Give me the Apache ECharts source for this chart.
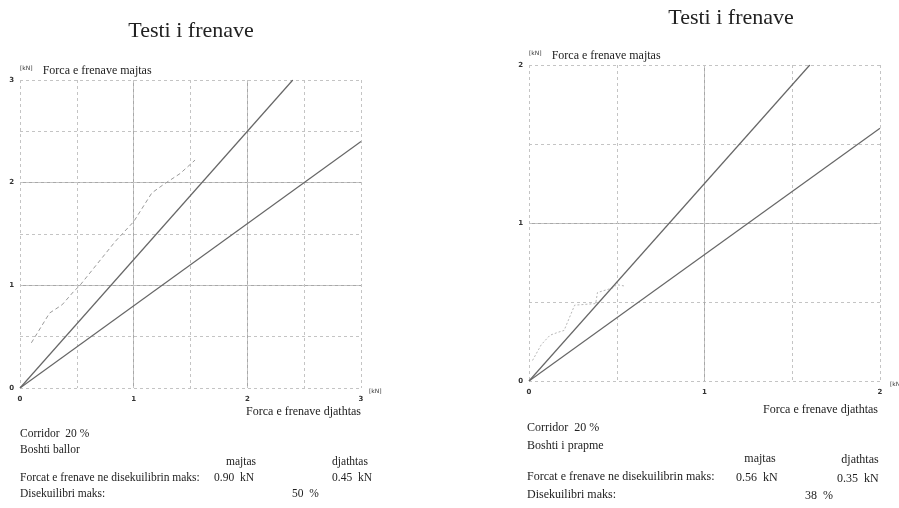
<!DOCTYPE html>
<html>
<head>
<meta charset="utf-8">
<script src="https://cdn.jsdelivr.net/npm/echarts@6/dist/echarts.min.js"></script>
<style>
  html, body { margin: 0; padding: 0; background: #fff; }
  #chart { width: 899px; height: 508px; }
</style>
</head>
<body>
<div id="chart"></div>
<script>
// Front axle (left page)
const leftMax = 3
const leftUpperLine = [[0, 0], [2.4, 3]]
const leftLowerLine = [[0, 0], [3, 2.4]]
const leftMeasured = [
  [0.10, 0.44], [0.26, 0.73], [0.37, 0.81], [0.48, 0.95], [0.52, 0.99],
  [0.84, 1.43], [1.00, 1.62], [1.16, 1.90], [1.26, 1.98], [1.41, 2.09], [1.54, 2.22]
]

// Rear axle (right page)
const rightMax = 2
const rightUpperLine = [[0, 0], [1.6, 2]]
const rightLowerLine = [[0, 0], [2, 1.6]]
const rightMeasured = [
  [0.02, 0.13], [0.07, 0.23], [0.12, 0.29], [0.17, 0.31], [0.20, 0.32],
  [0.23, 0.40], [0.26, 0.48], [0.38, 0.49], [0.39, 0.56], [0.48, 0.59],
  [0.50, 0.61], [0.55, 0.60]
]

// Text below each chart
const leftAxleName = 'Boshti ballor'
const rightAxleName = 'Boshti i prapme'
const corridorText = 'Corridor  20 %'
const leftValues = ['0.90  kN', '0.45  kN', '50  %']
const rightValues = ['0.56  kN', '0.35  kN', '38  %']

const serif = '"Liberation Serif", "DejaVu Serif", serif'
const sans = '"DejaVu Sans", sans-serif'

const chart = echarts.init(document.getElementById('chart'))

function mainAxis(gridIndex, max, isY) {
  return {
    type: 'value',
    gridIndex: gridIndex,
    min: 0,
    max: max,
    interval: 1,
    axisLine: { show: false },
    axisTick: { show: false },
    axisLabel: {
      fontSize: 7,
      fontWeight: 'bold',
      fontFamily: sans,
      color: '#333',
      margin: isY ? 6 : 8
    },
    splitLine: {
      show: true,
      showMinLine: false,
      showMaxLine: false,
      lineStyle: { color: '#a8a8a8', width: 1 }
    }
  }
}

function halfAxis(gridIndex, max) {
  return {
    type: 'value',
    gridIndex: gridIndex,
    min: 0,
    max: max,
    interval: 0.5,
    axisLine: { show: false },
    axisTick: { show: false },
    axisLabel: { show: false },
    splitLine: {
      show: true,
      lineStyle: { color: '#c4c4c4', width: 1, type: [3, 3] }
    }
  }
}

function yName(axis) {
  axis.name = '{u|[kN]}   {t|Forca e frenave majtas}'
  axis.nameLocation = 'end'
  axis.nameGap = 3
  axis.nameTextStyle = {
    align: 'left',
    verticalAlign: 'bottom',
    rich: {
      u: { fontSize: 6, fontFamily: sans, color: '#333', verticalAlign: 'top', padding: [0, 0, 4, 0] },
      t: { fontSize: 12, fontFamily: serif, color: '#222' }
    }
  }
  return axis
}

function xName(axis, gap) {
  axis.name = '[kN]'
  axis.nameLocation = 'end'
  axis.nameGap = gap
  axis.nameTextStyle = {
    fontSize: 6,
    fontFamily: sans,
    color: '#333',
    verticalAlign: 'top'
  }
  return axis
}

function line(data, xi, yi) {
  return {
    type: 'line',
    xAxisIndex: xi,
    yAxisIndex: yi,
    data: data,
    symbol: 'none',
    silent: true,
    lineStyle: { color: '#666', width: 1.2 }
  }
}

function measured(data, xi, yi, color, dash) {
  return {
    type: 'line',
    xAxisIndex: xi,
    yAxisIndex: yi,
    data: data,
    symbol: 'none',
    silent: true,
    lineStyle: { color: color, width: 1, type: dash }
  }
}

function txt(text, x, y, size, align) {
  return {
    type: 'text',
    x: x,
    y: y,
    style: {
      text: text,
      font: size + 'px ' + serif,
      fill: '#222',
      align: align || 'left',
      verticalAlign: 'middle'
    }
  }
}

const option = {
  animation: false,
  backgroundColor: '#fff',
  grid: [
    { left: 20, top: 80, width: 341, height: 308, outerBoundsMode: 'none' },
    { left: 529, top: 65, width: 351, height: 316, outerBoundsMode: 'none' }
  ],
  xAxis: [
    xName(mainAxis(0, leftMax, false), 8),
    halfAxis(0, leftMax),
    xName(mainAxis(1, rightMax, false), 10),
    halfAxis(1, rightMax)
  ],
  yAxis: [
    yName(mainAxis(0, leftMax, true)),
    halfAxis(0, leftMax),
    yName(mainAxis(1, rightMax, true)),
    halfAxis(1, rightMax)
  ],
  series: [
    measured(leftMeasured, 0, 0, '#9a9a9a', [4, 3]),
    line(leftUpperLine, 0, 0),
    line(leftLowerLine, 0, 0),
    measured(rightMeasured, 2, 2, '#b8b8b8', [2, 2]),
    line(rightUpperLine, 2, 2),
    line(rightLowerLine, 2, 2)
  ],
  graphic: [
    // left page
    txt('Testi i frenave', 191, 31, 22, 'center'),
    txt('Forca e frenave djathtas', 361, 412, 12, 'right'),
    txt(corridorText, 20, 434, 11.5),
    txt(leftAxleName, 20, 450, 11.5),
    txt('majtas', 241, 462, 11.5, 'center'),
    txt('djathtas', 350, 462, 11.5, 'center'),
    txt('Forcat e frenave ne disekuilibrin maks:', 20, 478, 11.5),
    txt(leftValues[0], 214, 478, 11.5),
    txt(leftValues[1], 332, 478, 11.5),
    txt('Disekuilibri maks:', 20, 494, 11.5),
    txt(leftValues[2], 292, 494, 11.5),
    // right page
    txt('Testi i frenave', 731, 18, 22, 'center'),
    txt('Forca e frenave djathtas', 878, 410, 12, 'right'),
    txt(corridorText, 527, 428, 12),
    txt(rightAxleName, 527, 446, 12),
    txt('majtas', 760, 459, 12, 'center'),
    txt('djathtas', 860, 460, 12, 'center'),
    txt('Forcat e frenave ne disekuilibrin maks:', 527, 477, 12),
    txt(rightValues[0], 736, 478, 12),
    txt(rightValues[1], 837, 479, 12),
    txt('Disekuilibri maks:', 527, 495, 12),
    txt(rightValues[2], 805, 496, 12)
  ]
}

chart.setOption(option)
</script>
</body>
</html>
